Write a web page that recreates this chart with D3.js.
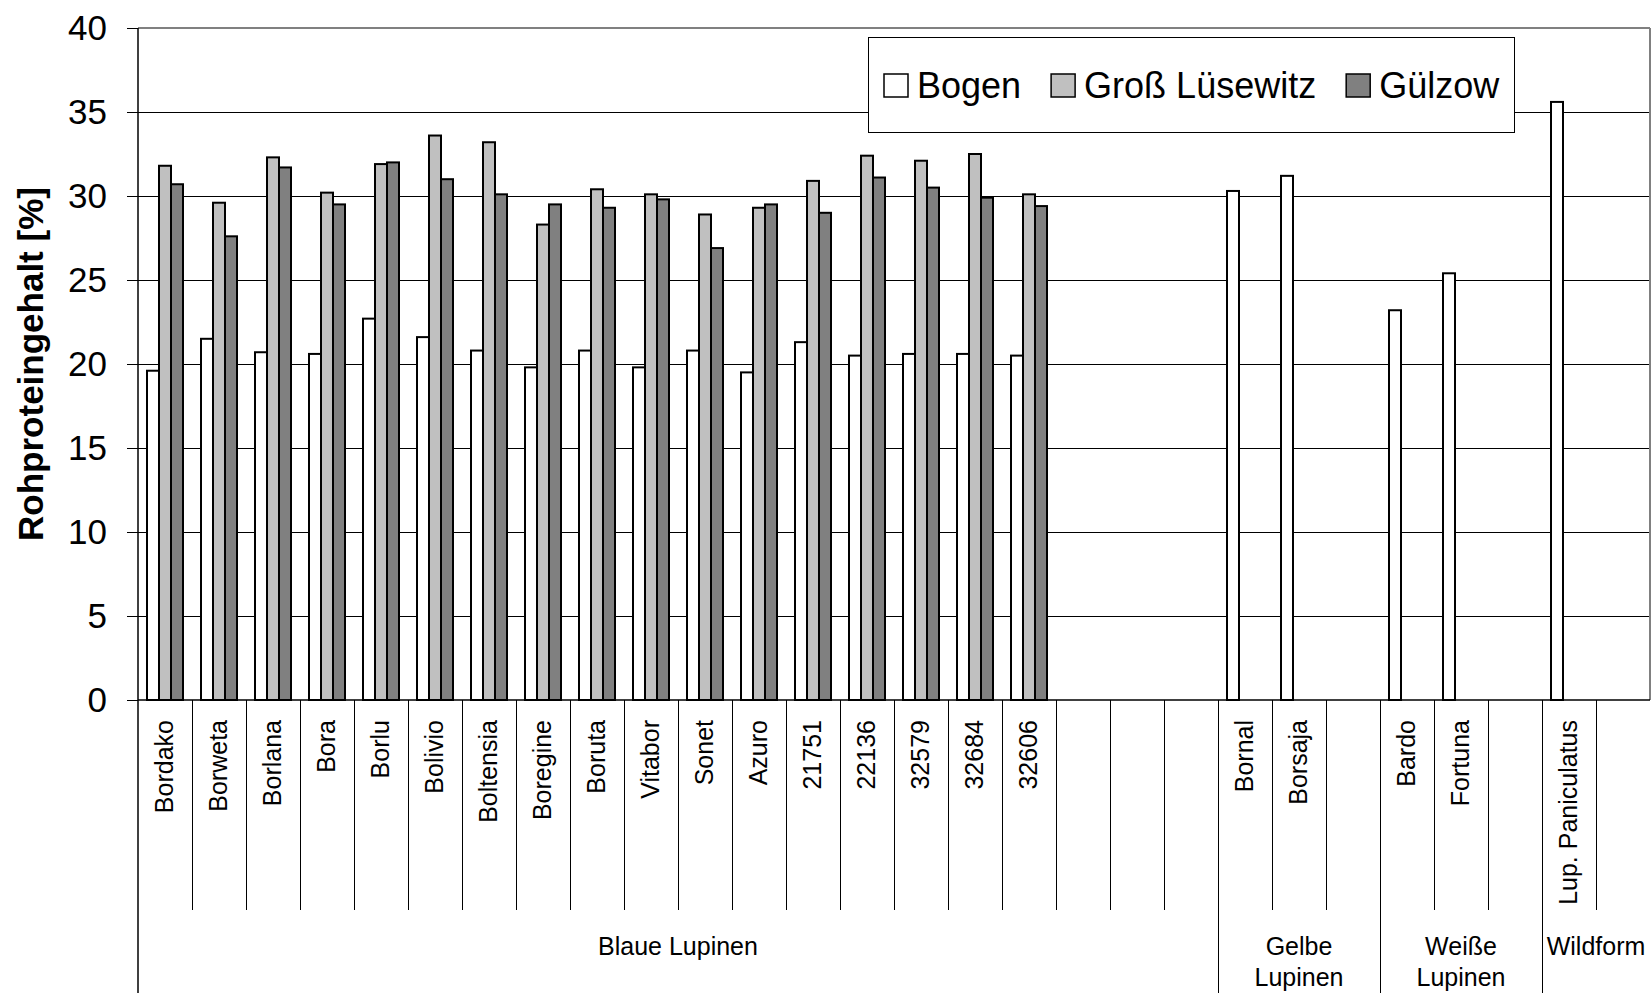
<!DOCTYPE html>
<html>
<head>
<meta charset="utf-8">
<script src="https://cdn.jsdelivr.net/npm/d3@7"></script>
<style>
  html, body { margin: 0; padding: 0; background: #fff; }
  svg { display: block; font-family: Arial, "Liberation Sans", sans-serif; }
</style>
</head>
<body>
<svg id="chart" width="1651" height="993"></svg>
<script>
// ---- Data ----
const categories = ["Bordako","Borweta","Borlana","Bora","Borlu","Bolivio","Boltensia","Boregine","Boruta","Vitabor","Sonet","Azuro","21751","22136","32579","32684","32606","","","","Bornal","Borsaja","","Bardo","Fortuna","","Lup. Paniculatus",""];
const seriesNames = ["Bogen","Groß Lüsewitz","Gülzow"];
const bogen   = [19.6,21.5,20.7,20.6,22.7,21.6,20.8,19.8,20.8,19.8,20.8,19.5,21.3,20.5,20.6,20.6,20.5,null,null,null,30.3,31.2,null,23.2,25.4,null,35.6,null];
const gross   = [31.8,29.6,32.3,30.2,31.9,33.6,33.2,28.3,30.4,30.1,28.9,29.3,30.9,32.4,32.1,32.5,30.1,null,null,null,null,null,null,null,null,null,null,null];
const guelzow = [30.7,27.6,31.7,29.5,32.0,31.0,30.1,29.5,29.3,29.8,26.9,29.5,29.0,31.1,30.5,29.9,29.4,null,null,null,null,null,null,null,null,null,null,null];
const groupNames = [["Blaue Lupinen"],["Gelbe","Lupinen"],["Weiße","Lupinen"],["Wildform"]];
const groupSizes = [20,3,3,2];
const yTicks = [0,5,10,15,20,25,30,35,40];
const yTitle = "Rohproteingehalt [%]";
const fills = ["#FFFFFF","#C0C0C0","#808080"];

// ---- Layout ----
const L = 138, R = 1650, T = 28, B = 700;
const svg = d3.select("#chart");
const idx = categories.map((d,i) => i);
const x = d3.scaleBand().domain(idx).range([L, R]).paddingInner(0).paddingOuter(0);
const xs = d3.scaleBand().domain(seriesNames).range([0, x.bandwidth()]).paddingInner(0).paddingOuter(0.75);
const y = d3.scaleLinear().domain([0, 40]).range([B, T]);
const values = [bogen, gross, guelzow];

// gridlines
svg.append("g").selectAll("line").data(yTicks.filter(t => t > 0 && t < 40)).join("line")
  .attr("x1", L).attr("x2", R).attr("y1", d => Math.round(y(d)) + 0.5).attr("y2", d => Math.round(y(d)) + 0.5)
  .attr("stroke", "#000").attr("stroke-width", 1);

// plot border top/right (gray)
svg.append("line").attr("x1", L).attr("x2", R).attr("y1", y(40)).attr("y2", y(40))
  .attr("stroke", "#808080").attr("stroke-width", 2);
svg.append("line").attr("x1", R).attr("x2", R).attr("y1", y(40)).attr("y2", B)
  .attr("stroke", "#808080").attr("stroke-width", 2);

// bars
const barG = svg.append("g");
seriesNames.forEach((s, si) => {
  barG.append("g").selectAll("rect")
    .data(idx.filter(i => values[si][i] != null))
    .join("rect")
    .attr("x", i => x(i) + xs(s))
    .attr("width", xs.bandwidth())
    .attr("y", i => y(values[si][i]))
    .attr("height", i => B - y(values[si][i]))
    .attr("fill", fills[si])
    .attr("stroke", "#000")
    .attr("stroke-width", 2);
});

// y axis
const yAxis = d3.axisLeft(y).tickValues(yTicks).tickSize(11).tickPadding(20).tickFormat(d3.format("d"));
const yg = svg.append("g").attr("transform", `translate(${L},0)`).call(yAxis);
yg.select(".domain").remove();
yg.selectAll(".tick line").attr("stroke", "#000").attr("stroke-width", 1);
yg.selectAll(".tick text").attr("font-size", 35).attr("fill", "#000")
  .attr("font-family", 'Arial, "Liberation Sans", sans-serif');
svg.append("line").attr("x1", L).attr("x2", L).attr("y1", T).attr("y2", 993)
  .attr("stroke", "#000").attr("stroke-width", 1.5);

// x axis line
svg.append("line").attr("x1", L).attr("x2", R).attr("y1", B).attr("y2", B)
  .attr("stroke", "#000").attr("stroke-width", 1.5);

// category dividers
const groupStarts = [];
let acc = 0;
groupSizes.forEach(g => { groupStarts.push(acc); acc += g; });
const boundaries = d3.range(1, categories.length);
svg.append("g").selectAll("line").data(boundaries).join("line")
  .attr("x1", i => Math.round(x(i)) + 0.5).attr("x2", i => Math.round(x(i)) + 0.5)
  .attr("y1", B).attr("y2", i => groupStarts.includes(i) ? 993 : 910)
  .attr("stroke", "#000").attr("stroke-width", 1);

// category labels
svg.append("g").selectAll("text").data(idx.filter(i => categories[i] !== "")).join("text")
  .attr("transform", i => `translate(${x(i) + x.bandwidth()/2},720) rotate(-90)`)
  .attr("text-anchor", "end").attr("dy", "0.33em")
  .attr("font-size", 25).attr("fill", "#000")
  .text(i => categories[i]);

// group labels
groupNames.forEach((lines, gi) => {
  const start = groupStarts[gi], n = groupSizes[gi];
  const cx = x(start) + n * x.bandwidth() / 2;
  const t = svg.append("text").attr("x", cx).attr("y", 955).attr("text-anchor", "middle")
    .attr("font-size", 25).attr("fill", "#000");
  lines.forEach((ln, li) => {
    t.append("tspan").attr("x", cx).attr("y", 955 + li * 31).text(ln);
  });
});

// y title
svg.append("text").attr("transform", `translate(43,${(T + B) / 2}) rotate(-90)`)
  .attr("text-anchor", "middle").attr("font-size", 35).attr("font-weight", "bold")
  .attr("fill", "#000").text(yTitle);

// legend
const lg = svg.append("g");
lg.append("rect").attr("x", 868.5).attr("y", 37.5).attr("width", 646).attr("height", 95)
  .attr("fill", "#fff").attr("stroke", "#000").attr("stroke-width", 1);
let lx = 884;
seriesNames.forEach((s, si) => {
  lg.append("rect").attr("x", lx).attr("y", 74).attr("width", 24).attr("height", 23)
    .attr("fill", fills[si]).attr("stroke", "#000").attr("stroke-width", 1.5);
  const tx = lg.append("text").attr("x", lx + 33).attr("y", 98).attr("font-size", 36)
    .attr("fill", "#000").text(s);
  lx = lx + 33 + tx.node().getComputedTextLength() + 30;
});
</script>
</body>
</html>
